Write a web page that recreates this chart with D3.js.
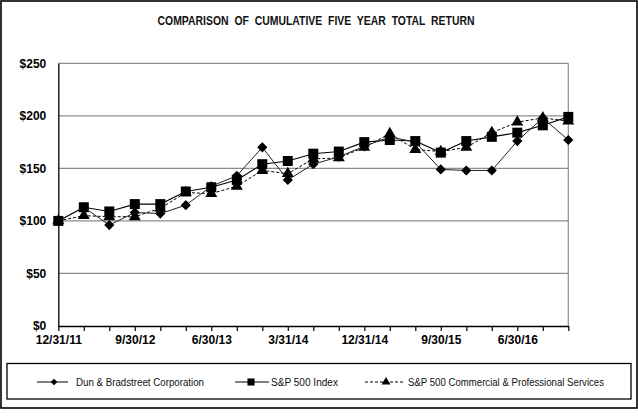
<!DOCTYPE html>
<html><head><meta charset="utf-8">
<script src="https://cdn.jsdelivr.net/npm/d3@7"></script>
<style>body{margin:0;background:#fff}svg{display:block}</style>
</head><body>
<script>
const quarters = ["12/31/11","3/31/12","6/30/12","9/30/12","12/31/12","3/31/13","6/30/13","9/30/13","12/31/13","3/31/14","6/30/14","9/30/14","12/31/14","3/31/15","6/30/15","9/30/15","12/31/15","3/31/16","6/30/16","9/30/16","12/31/16"];
const labeledQuarters = ["12/31/11","9/30/12","6/30/13","3/31/14","12/31/14","9/30/15","6/30/16"];
const dnb = [100,113,96,108,107,115,133,143,170,139,154,161,171,180,175,149,148,148,176,198,177];
const sp500 = [100,113,109,116,116,128,132,139,154,157,164,166,175,177,176,165,176,180,184,191,199];
const spComm = [100,105,104,104,112,127,126,133,148,145,159,160,170,183,168,166,170,184,194,198,195];
const yTicks = [0,50,100,150,200,250];
const seriesNames = ["Dun & Bradstreet Corporation","S&P 500 Index","S&P 500 Commercial & Professional Services"];

const W=638,H=418;
const svg=d3.select("body").append("svg").attr("width",W).attr("height",H);
const font="'Liberation Sans', Arial, sans-serif";

svg.append("rect").attr("x",1).attr("y",1).attr("width",636).attr("height",407)
  .attr("fill","#fff").attr("stroke","#000").attr("stroke-width",1.6);

svg.append("text").attr("x",316).attr("y",25).attr("text-anchor","middle")
  .attr("font-family",font).attr("font-weight","bold").attr("font-size",12)
  .attr("textLength",317).attr("lengthAdjust","spacingAndGlyphs")
  .attr("fill","#111").attr("xml:space","preserve")
  .text("COMPARISON  OF  CUMULATIVE  FIVE  YEAR  TOTAL  RETURN");

const x=d3.scaleLinear().domain([0,quarters.length-1]).range([58.3,568.3]);
const y=d3.scaleLinear().domain([0,250]).range([326,63.3]);

// gridlines
svg.append("g").selectAll("line").data(yTicks.filter(d=>d>0)).join("line")
  .attr("x1",x(0)).attr("x2",x(20)).attr("y1",d=>y(d)).attr("y2",d=>y(d))
  .attr("stroke","#8c8c8c").attr("stroke-width",1.2);
svg.append("line").attr("x1",x(20)).attr("x2",x(20)).attr("y1",y(250)).attr("y2",y(0))
  .attr("stroke","#8c8c8c").attr("stroke-width",1.2);

// x axis
const xa=svg.append("g").attr("transform",`translate(0,${y(0)})`)
  .call(d3.axisBottom(x).tickValues(d3.range(quarters.length)).tickSize(5).tickSizeOuter(0)
    .tickFormat(i=>labeledQuarters.includes(quarters[i])?quarters[i]:""));
xa.select(".domain").attr("stroke","#000").attr("stroke-width",1.3);
xa.selectAll(".tick line").attr("stroke","#000").attr("stroke-width",1.2);
xa.selectAll(".tick text").attr("font-family",font).attr("font-weight","bold")
  .attr("font-size",12).attr("fill","#000").attr("dy","0.71em").attr("y",9.5);

// y axis
const ya=svg.append("g").attr("transform",`translate(${x(0)},0)`)
  .call(d3.axisLeft(y).tickValues(yTicks).tickSize(0).tickPadding(12).tickFormat(d=>"$"+d));
ya.select(".domain").attr("stroke","#000").attr("stroke-width",1.3);
ya.selectAll(".tick text").attr("font-family",font).attr("font-weight","bold")
  .attr("font-size",12).attr("fill","#000");

const line=d3.line().x((d,i)=>x(i)).y(d=>y(d));
const diamond=d3.symbol().type(d3.symbolSquare).size(52);
const square=d3.symbol().type(d3.symbolSquare).size(100);
const tri=d3.symbol().type(d3.symbolTriangle).size(62);

function drawSeries(data,dash,sym,color,width,rot){
  svg.append("path").datum(data).attr("d",line).attr("fill","none")
    .attr("stroke",color).attr("stroke-width",width).attr("stroke-dasharray",dash);
  svg.append("g").selectAll("path").data(data).join("path")
    .attr("d",sym).attr("transform",(d,i)=>`translate(${x(i)},${y(d)}) rotate(${rot})`).attr("fill","#000");
}
drawSeries(spComm,"3,2",tri,"#000",1,0);
drawSeries(sp500,null,square,"#000",1.1,0);
drawSeries(dnb,null,diamond,"#222",1,45);

// legend
svg.append("rect").attr("x",7).attr("y",363.5).attr("width",624).attr("height",35.5)
  .attr("fill","#fff").attr("stroke","#000").attr("stroke-width",1.3);
const ly=382;
const legendItems=[
  {x1:37,x2:68,mx:54,sym:d3.symbol().type(d3.symbolSquare).size(22),rot:45,dash:null,tx:76,tw:128},
  {x1:235,x2:269,mx:251,sym:d3.symbol().type(d3.symbolSquare).size(50),rot:0,dash:null,tx:271,tw:67},
  {x1:365,x2:404,mx:386,sym:d3.symbol().type(d3.symbolTriangle).size(34),rot:0,dash:"3,2",tx:408,tw:196}
];
legendItems.forEach((it,k)=>{
  svg.append("line").attr("x1",it.x1).attr("x2",it.x2).attr("y1",ly).attr("y2",ly)
    .attr("stroke","#000").attr("stroke-width",1).attr("stroke-dasharray",it.dash);
  svg.append("path").attr("d",it.sym())
    .attr("transform",`translate(${it.mx},${ly}) rotate(${it.rot})`).attr("fill","#000");
  svg.append("text").attr("x",it.tx).attr("y",ly+3.5).attr("font-family",font)
    .attr("font-size",10).attr("textLength",it.tw).attr("lengthAdjust","spacingAndGlyphs")
    .attr("fill","#111").text(seriesNames[k]);
});
</script>
</body></html>
